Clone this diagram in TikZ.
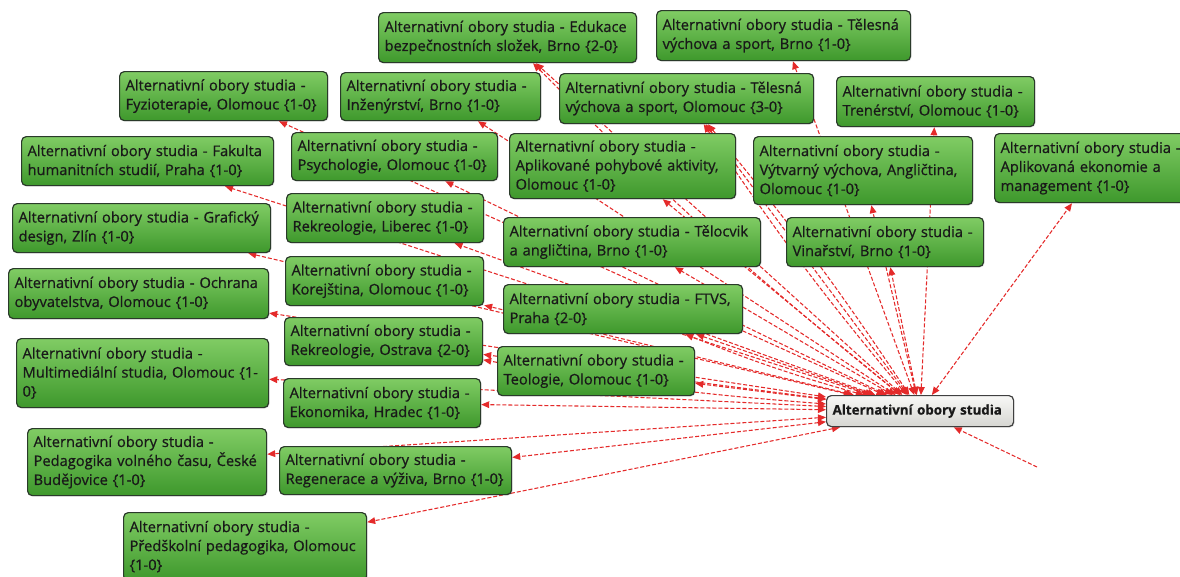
\documentclass[tikz,border=0pt]{standalone}
\usepackage{fontspec}
\setmainfont{Open Sans}[FakeBold=0.7]
\usetikzlibrary{arrows.meta,backgrounds,shadows}
\definecolor{gtop}{RGB}{128,204,100}
\definecolor{gbot}{RGB}{62,152,44}
\definecolor{gbrd}{RGB}{42,58,42}
\definecolor{ered}{RGB}{228,42,42}
\definecolor{ctop}{RGB}{248,248,246}
\definecolor{cbot}{RGB}{214,214,210}
\tikzset{
  box/.style={draw=gbrd, line width=0.9pt, rounded corners=3.5pt,
    top color=gtop, bottom color=gbot, anchor=north west, align=left,
    inner xsep=4.5pt, inner ysep=0pt, text=black!90,
    font=\fontsize{11}{14.25}\selectfont,
    drop shadow={opacity=0.18, shadow xshift=0.8pt, shadow yshift=-0.8pt}},
  cbox/.style={box, top color=ctop, bottom color=cbot, draw=black!75,
    font=\fontsize{10}{12}\selectfont\bfseries},
  edge/.style={draw=ered, line width=0.8pt, dash pattern=on 3pt off 1.5pt,
    {Triangle[length=6pt,width=5pt]}-{Triangle[length=6pt,width=5pt]}},
  edgeone/.style={draw=ered, line width=0.8pt, dash pattern=on 3pt off 1.5pt,
    -{Triangle[length=6pt,width=5pt]}},
}
\newcommand\bx[7][box]{%
  \pgfmathsetmacro\bxw{(#5-12)*0.75}%
  \node[#1, text width=\bxw pt, minimum height=#6*0.75pt] (#2) at (#3,#4) {#7};}
\begin{document}
\begin{tikzpicture}[x=0.75pt, y=-0.75pt]
\useasboundingbox (0,0) rectangle (1180,576);
\bx{ed}{378}{12}{258}{50}{Alternativní obory studia - Edukace\\bezpečnostních složek, Brno \{2-0\}}
\bx{tb}{656}{10}{254}{50}{Alternativní obory studia - Tělesná\\výchova a sport, Brno \{1-0\}}
\bx{fy}{119}{71}{208}{49}{Alternativní obory studia -\\Fyzioterapie, Olomouc \{1-0\}}
\bx{in}{340}{72}{200}{48}{Alternativní obory studia -\\Inženýrství, Brno \{1-0\}}
\bx{to}{559}{73}{254}{50}{Alternativní obory studia - Tělesná\\výchova a sport, Olomouc \{3-0\}}
\bx{tr}{836}{76}{198}{50}{Alternativní obory studia -\\Trenérství, Olomouc \{1-0\}}
\bx{fa}{21}{136}{252}{49}{Alternativní obory studia - Fakulta\\humanitních studií, Praha \{1-0\}}
\bx{ps}{291}{132}{206}{48}{Alternativní obory studia -\\Psychologie, Olomouc \{1-0\}}
\bx{ap}{509}{133}{226}{65}{Alternativní obory studia -\\Aplikované pohybové aktivity,\\Olomouc \{1-0\}}
\bx{vy}{753}{136}{219}{68}{Alternativní obory studia -\\Výtvarný výchova, Angličtina,\\Olomouc \{1-0\}}
\bx{ae}{994}{133}{206}{69}{Alternativní obory studia -\\Aplikovaná ekonomie a\\management \{1-0\}}
\bx{gr}{12}{203}{258}{49}{Alternativní obory studia - Grafický\\design, Zlín \{1-0\}}
\bx{rl}{286}{193}{197}{49}{Alternativní obory studia -\\Rekreologie, Liberec \{1-0\}}
\bx{tc}{503}{217}{257}{49}{Alternativní obory studia - Tělocvik\\a angličtina, Brno \{1-0\}}
\bx{vi}{786}{217}{197}{49}{Alternativní obory studia -\\Vinařství, Brno \{1-0\}}
\bx{oc}{8}{268}{260}{50}{Alternativní obory studia - Ochrana\\obyvatelstva, Olomouc \{1-0\}}
\bx{ko}{285}{256}{198}{49}{Alternativní obory studia -\\Korejština, Olomouc \{1-0\}}
\bx{ft}{503}{284}{239}{49}{Alternativní obory studia - FTVS,\\Praha \{2-0\}}
\bx{ro}{284}{317}{198}{48}{Alternativní obory studia -\\Rekreologie, Ostrava \{2-0\}}
\bx{mu}{16}{338}{252}{69}{Alternativní obory studia -\\Multimediální studia, Olomouc \{1-\\0\}}
\bx{te}{497}{346}{197}{49}{Alternativní obory studia -\\Teologie, Olomouc \{1-0\}}
\bx{ek}{283}{378}{197}{49}{Alternativní obory studia -\\Ekonomika, Hradec \{1-0\}}
\bx{pv}{27}{428}{239}{67}{Alternativní obory studia -\\Pedagogika volného času, České\\Budějovice \{1-0\}}
\bx{rg}{279}{446}{232}{48}{Alternativní obory studia -\\Regenerace a výživa, Brno \{1-0\}}
\bx{pr}{123}{512}{243}{68}{Alternativní obory studia -\\Předškolní pedagogika, Olomouc\\\{1-0\}}
\bx[cbox]{c}{826}{395}{187}{31}{Alternativní obory studia}
\coordinate (dg) at (1037,467);
\begin{pgfonlayer}{background}
\foreach \n in {ed,tb,fy,in,to,tr,fa,ps,ap,vy,ae,gr,rl,tc,vi,oc,ko,ft,ro,mu,te,ek,pv,rg,pr}
  \draw[edge] (c) -- (\n);
\foreach \n in {ed,to,ft,ro}
  \draw[edge] (c) to[bend left=3] (\n);
\draw[edge] (c) to[bend right=3] (to);
\draw[edgeone] (dg) -- (c);
\end{pgfonlayer}
\end{tikzpicture}
\end{document}
